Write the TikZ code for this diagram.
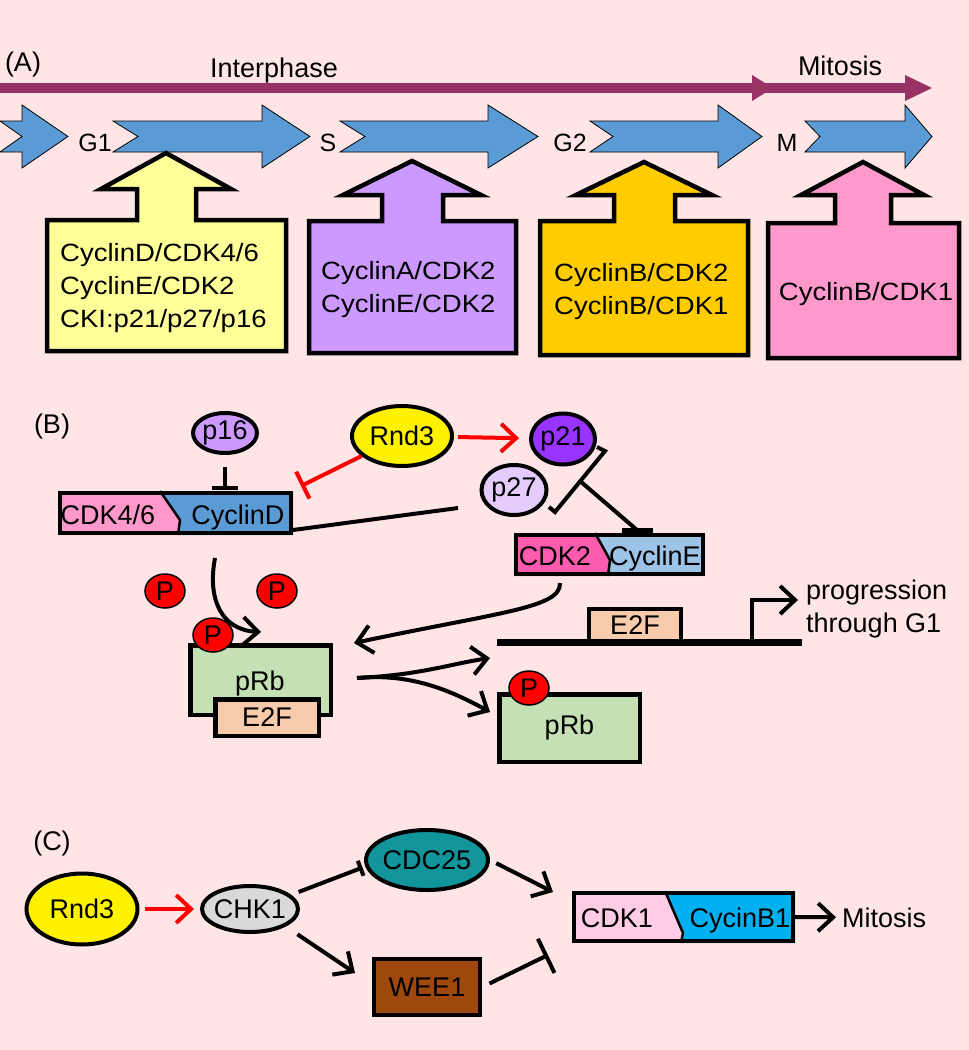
\documentclass[tikz,border=0pt]{standalone}
\usepackage{fontspec}
\setmainfont{Liberation Sans}
\newfontfamily\stretchedsans{Liberation Sans}[FakeStretch=1.1]
\usetikzlibrary{arrows.meta,shapes.geometric}
\definecolor{bgc}{HTML}{FFE5E5}
\definecolor{maroonc}{HTML}{993366}
\definecolor{phasec}{HTML}{5B9BD5}
\definecolor{yelA}{HTML}{FFFF99}
\definecolor{purA}{HTML}{CC99FF}
\definecolor{oraA}{HTML}{FFCC00}
\definecolor{pinA}{HTML}{FF99CC}
\definecolor{lavc}{HTML}{CC99FF}
\definecolor{p21c}{HTML}{9933FF}
\definecolor{p27c}{HTML}{E5CCFF}
\definecolor{cdk46c}{HTML}{FF99CC}
\definecolor{cycDc}{HTML}{5B9BD5}
\definecolor{cdk2c}{HTML}{FF5BAF}
\definecolor{cycEc}{HTML}{9DC3E6}
\definecolor{pRbc}{HTML}{C5E0B4}
\definecolor{e2fc}{HTML}{F8CBAD}
\definecolor{chkc}{HTML}{D9D9D9}
\definecolor{cdcc}{HTML}{12959A}
\definecolor{weec}{HTML}{9E480E}
\definecolor{cdk1c}{HTML}{FFCCE5}
\definecolor{cycBc}{HTML}{00B0F0}
\newcommand\phasearrow[4]{%
  \filldraw[fill=phasec,draw=black,line width=0.8pt,line join=miter]
  (#1,121) -- (#3,121) -- (#3,105) -- (#4,136.5) -- (#3,168) -- (#3,152) -- (#1,152) -- (#2,136.5) -- cycle;}
\begin{document}
\begin{tikzpicture}[x=1pt,y=-1pt,
  txt/.style={font=\fontsize{27}{32}\selectfont, inner sep=0pt},
  phl/.style={font=\fontsize{25}{30}\selectfont, inner sep=0pt},
  boxtxt/.style={font=\stretchedsans\fontsize{25}{33}\selectfont, inner sep=0pt, align=left},
  callout/.style={draw=black, line width=4.5pt, line join=miter},
  ell/.style={ellipse, draw, line width=4pt, inner sep=0pt, font=\fontsize{27}{32}\selectfont},
  pbub/.style={ellipse, draw, line width=1.5pt, fill=red, minimum width=40pt, minimum height=34pt, inner sep=0pt, font=\fontsize{27}{32}\selectfont},
  rbox/.style={draw, line width=4.5pt, inner sep=0pt, font=\fontsize{27}{32}\selectfont},
  con/.style={line width=4pt},
  act/.style={con, -{Straight Barb[length=15pt,width=28pt]}},
  inh/.style={con, -{Bar[width=26pt]}},
  redact/.style={con, draw=red, -{Straight Barb[length=15pt,width=28pt]}},
  redinh/.style={con, draw=red, -{Bar[width=30pt]}}
]
\useasboundingbox (0,0) rectangle (969,1050);
\fill[bgc] (0,0) rectangle (969,1050);

% ---------------- (A) ----------------
\draw[maroonc, line width=10pt] (0,88) -- (906,88);
\fill[maroonc] (752,75) -- (773,88) -- (752,101) -- cycle;
\fill[maroonc] (905,75) -- (932,88) -- (905,101) -- cycle;
\node[txt, anchor=base] (labA) at (23,71) {(A)};
\node[txt, anchor=base] (interph) at (274,77) {Interphase};
\node[txt, anchor=base] (mitTop) at (840,75) {Mitosis};

\phasearrow{0}{22}{22}{68}
\phasearrow{113}{138}{262}{310}
\phasearrow{340}{365}{488}{538}
\phasearrow{590}{613}{718}{762}
\phasearrow{805}{820}{905}{932}
\node[phl, anchor=base] (g1) at (95,151) {G1};
\node[phl, anchor=base] (sph) at (328,151) {S};
\node[phl, anchor=base] (g2) at (570,151) {G2};
\node[phl, anchor=base] (mph) at (787,151) {M};

\filldraw[callout, fill=yelA] (47,351) -- (47,220) -- (137,220) -- (137,189) -- (101,189) -- (166,153) -- (231,189) -- (196,189) -- (196,220) -- (286,220) -- (286,351) -- cycle;
\filldraw[callout, fill=purA] (309,353) -- (309,221) -- (382,221) -- (382,195) -- (343,195) -- (412,161) -- (481,195) -- (443,195) -- (443,221) -- (516,221) -- (516,353) -- cycle;
\filldraw[callout, fill=oraA] (540,355) -- (540,221) -- (614,221) -- (614,195) -- (576,195) -- (644,162) -- (712,195) -- (675,195) -- (675,221) -- (748,221) -- (748,355) -- cycle;
\filldraw[callout, fill=pinA] (768,358) -- (768,223) -- (835,223) -- (835,195) -- (801,195) -- (863,162) -- (924,195) -- (891,195) -- (891,223) -- (959,223) -- (959,358) -- cycle;
\node[boxtxt, anchor=west] (txtY) at (60,288.5) {CyclinD/CDK4/6\\CyclinE/CDK2\\CKI:p21/p27/p16};
\node[boxtxt, anchor=west] (txtP) at (321,290) {CyclinA/CDK2\\CyclinE/CDK2};
\node[boxtxt, anchor=west] (txtO) at (554,292) {CyclinB/CDK2\\CyclinB/CDK1};
\node[boxtxt, anchor=base] (txtK) at (866,300) {CyclinB/CDK1};

% ---------------- (B) ----------------
\node[txt, anchor=base] (labB) at (52,433) {(B)};
\node[ell, fill=lavc, minimum width=64pt, minimum height=40pt] (p16) at (225,433) {p16};
\node[ell, fill=yellow, minimum width=100pt, minimum height=60pt] (rndB) at (402,436) {Rnd3};
\node[ell, fill=p21c, minimum width=64pt, minimum height=51pt] (p21) at (563,439) {p21};
\node[ell, fill=p27c, minimum width=65pt, minimum height=50pt] (p27) at (514,490) {p27};

% CDK4/6 - CyclinD complex
\fill[cdk46c] (58,491) -- (160,491) -- (180,520) -- (178,535) -- (58,535) -- cycle;
\fill[cycDc] (160,491) -- (293,491) -- (293,535) -- (178,535) -- (180,520) -- cycle;
\draw[line width=2.5pt] (160,491) -- (180,520) -- (178,535);
\draw[line width=4.5pt] (60,493) rectangle (291,533);
\node[txt, anchor=base] (cdk46) at (108,524) {CDK4/6};
\node[txt, anchor=base] (cycD) at (238,524) {CyclinD};

\coordinate (cdTop) at (225,490);
\draw[inh, shorten <=12pt] (p16) -- (cdTop);
\coordinate (rdEnd) at (301,486);
\draw[redinh] (rndB) -- (rdEnd);
\draw[redact, shorten <=4pt, shorten >=10pt] (rndB) -- (p21);
\coordinate (cdR) at (293,530);
\coordinate (bindEnd) at (458,508);
\draw[con] (cdR) -- (bindEnd);

% bracket p21/p27
\draw[con, line join=miter] (597,447) -- (605,451) -- (555,512) -- (549,507);
\coordinate (brk) at (580,481);
\coordinate (ceTop) at (637,530);
\draw[con] (brk) -- (ceTop);
\draw[line width=5pt] (622,530) -- (653,530);

% CDK2 - CyclinE complex
\fill[cdk2c] (514,533) -- (595,533) -- (610,560) -- (608,576) -- (514,576) -- cycle;
\fill[cycEc] (595,533) -- (705,533) -- (705,576) -- (608,576) -- (610,560) -- cycle;
\draw[line width=2.5pt] (595,533) -- (610,560) -- (608,576);
\draw[line width=4.5pt] (516,535) rectangle (703,574);
\node[txt, anchor=base] (cdk2) at (555,565) {CDK2};
\node[txt, anchor=base] (cycE) at (655,565) {CyclinE};

% free P
\node[pbub] (P1) at (165,591) {P};
\node[pbub] (P2) at (277,591) {P};

% pRb / E2F left
\node[rbox, fill=pRbc, minimum width=140.5pt, minimum height=69.5pt] (pRbL) at (260.5,680) {};
\node[txt, anchor=base] (pRbLt) at (260,690) {pRb};
\node[rbox, fill=e2fc, minimum width=103.5pt, minimum height=36.5pt] (e2fL) at (267,717.5) {E2F};
\node[pbub] (P3) at (213,635) {P};

% DNA
\node[rbox, line width=4pt, fill=e2fc, minimum width=92pt, minimum height=32pt] (e2fD) at (635,625) {E2F};
\draw[line width=7pt] (497,642) -- (802,642);
\coordinate (tss) at (752,642);
\coordinate (tssEnd) at (798,600);
\draw[act, line join=miter] (tss) |- (tssEnd);
\node[txt, anchor=base west] (prog1) at (806,599) {progression};
\node[txt, anchor=base west] (prog2) at (806,632) {through G1};

% pRb right
\node[rbox, fill=pRbc, minimum width=140.5pt, minimum height=67.5pt] (pRbR) at (569.5,728) {pRb};
\node[pbub] (P4) at (529,688) {P};

% curved arrows
\coordinate (cdBot) at (215,558);
\coordinate (rbIn1) at (261,632);
\draw[act] (cdBot) .. controls (207,600) and (222,630) .. (rbIn1);
\coordinate (ceBot) at (560,583);
\coordinate (rbIn2) at (354,643);
\draw[act] (ceBot) .. controls (561,608) and (500,612) .. (rbIn2);
\coordinate (rbOut) at (357,678);
\coordinate (dnaIn) at (490,658);
\coordinate (prbIn) at (490,712);
\draw[act] (rbOut) .. controls (420,675) and (450,664) .. (dnaIn);
\draw[act] (rbOut) .. controls (410,673) and (450,690) .. (prbIn);

% ---------------- (C) ----------------
\node[txt, anchor=base] (labC) at (52,850) {(C)};
\node[ell, fill=yellow, minimum width=111pt, minimum height=71pt] (rndC) at (82,909) {Rnd3};
\node[ell, fill=chkc, inner xsep=-10pt, minimum width=96pt, minimum height=46pt] (chk1) at (250,909) {CHK1};
\node[ell, fill=cdcc, inner xsep=-10pt, minimum width=122pt, minimum height=60pt] (cdc25) at (427,860) {CDC25};
\node[rbox, fill=weec, minimum width=106pt, minimum height=56pt] (wee1) at (427,987) {WEE1};

% CDK1 - CycinB1 complex
\fill[cdk1c] (572,891) -- (665,891) -- (683,933) -- (681,943) -- (572,943) -- cycle;
\fill[cycBc] (665,891) -- (795,891) -- (795,943) -- (681,943) -- (683,933) -- cycle;
\draw[line width=2.5pt] (665,891) -- (683,933) -- (681,943);
\draw[line width=4.5pt] (574,893) rectangle (793,941);
\node[txt, anchor=base] (cdk1) at (617,927) {CDK1};
\node[txt, anchor=base] (cycB) at (740,927) {CycinB1};
\node[txt, anchor=base west] (mitC) at (842,927) {Mitosis};

\draw[redact, shorten <=5pt, shorten >=6pt] (rndC) -- (chk1);
\draw[con, -{Bar[width=16pt]}, shorten <=8pt, shorten >=3pt] (chk1.19) -- (cdc25.186);
\coordinate (w1in) at (355,973);
\draw[act, shorten <=14pt] (chk1.-26) -- (w1in);
\coordinate (cxIn1) at (553,892);
\draw[act, shorten <=7pt] (cdc25.east) -- (cxIn1);
\coordinate (cxIn2) at (548,955);
\draw[con, -{Bar[width=38pt]}, shorten <=8pt] (wee1.east) -- (cxIn2);
\coordinate (cxOut) at (795,917);
\draw[act, shorten >=6pt] (cxOut) -- (mitC.west);
\end{tikzpicture}
\end{document}
